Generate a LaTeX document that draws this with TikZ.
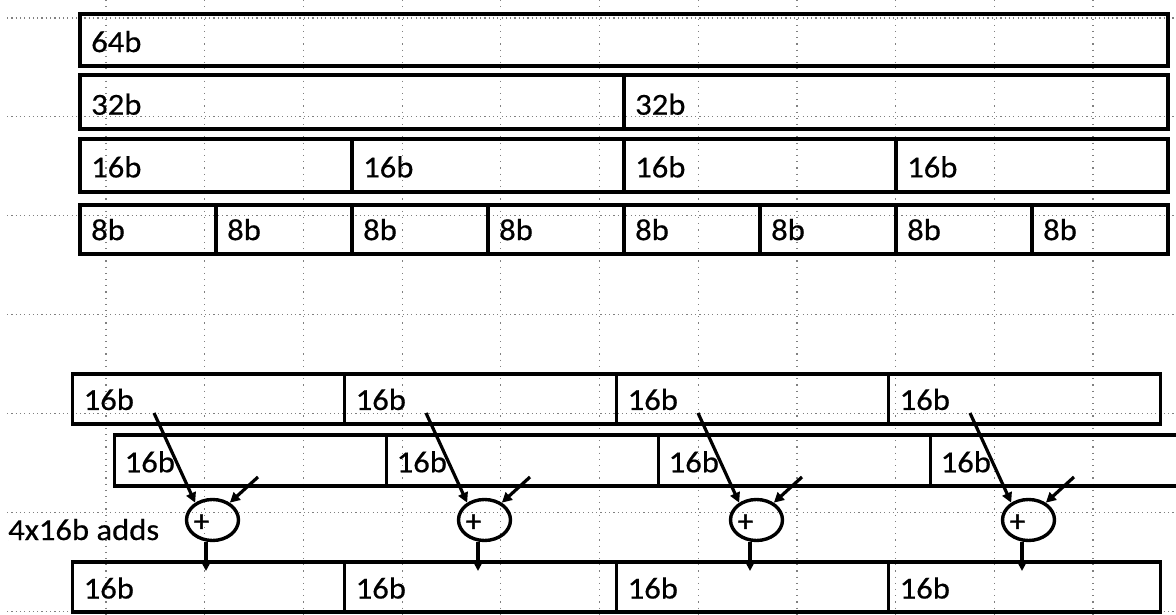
\documentclass[tikz,border=0pt]{standalone}
\usepackage{fontspec}
\newfontfamily\cellfont[FakeStretch=1.07,FakeBold=0.5]{Carlito}
\newfontfamily\plusfont[FakeBold=1.2]{Carlito}
\usetikzlibrary{arrows.meta,shapes.geometric}
\begin{document}
\begin{tikzpicture}[x=1pt,y=-1pt,
  cell/.style={draw, line width=3.8pt, rectangle, inner sep=0pt, anchor=north west},
  lbl/.style={anchor=base west, inner sep=0pt, font=\cellfont\fontsize{30.5}{33}\selectfont},
  adder/.style={draw, line width=3.4pt, ellipse, inner sep=0pt,
                minimum width=52pt, minimum height=41pt},
  plussign/.style={inner sep=0pt, font=\plusfont\fontsize{31}{33}\selectfont},
  feed/.style={line width=3.2pt, -{Triangle[width=10pt,length=10pt]}},
  result/.style={line width=3.2pt, -{Triangle[width=11pt,length=11pt]}},
  hgrid/.style={black!50, line width=1.2pt, dash pattern=on 1.2pt off 3.1pt},
  vgrid/.style={black!50, line width=1.2pt, dash pattern=on 1.2pt off 5pt}
]
\useasboundingbox (0,0) rectangle (1176,615);
\clip (0,0) rectangle (1176,615);

% dotted background grid
\foreach \k in {0,...,10}
  \draw[vgrid] ({106+98.7*\k},0) -- ({106+98.7*\k},615);
\foreach \k in {0,...,6}
  \draw[hgrid] (7,{18+98.9*\k}) -- (1176,{18+98.9*\k});

% register split into lanes of 64, 32, 16 and 8 bits
\node[cell, minimum width=1088pt, minimum height=51.3pt] (w64) at (78,12.5) {};
\node[lbl, xshift=13pt, yshift=-12pt] at (w64.west) {64b};

\foreach \i in {0,1} {
  \node[cell, minimum width=544pt, minimum height=54pt] (w32-\i) at ({78+544*\i},73.3) {};
  \node[lbl, xshift=13pt, yshift=-12.5pt] at (w32-\i.west) {32b};
}
\foreach \i in {0,...,3} {
  \node[cell, minimum width=272pt, minimum height=53pt] (w16-\i) at ({78+272*\i},137) {};
  \node[lbl, xshift=13pt, yshift=-12pt] at (w16-\i.west) {16b};
}
\foreach \i in {0,...,7} {
  \node[cell, minimum width=136pt, minimum height=49pt] (w8-\i) at ({78+136*\i},202.7) {};
  \node[lbl, xshift=13pt, yshift=-11pt] at (w8-\i.west) {8b};
}

% two source operands, one result, four 16-bit adders
\foreach \i in {0,...,3} {
  \node[cell, minimum width=272pt, minimum height=49.5pt] (srcA-\i) at ({70.5+272*\i},372.3) {};
  \node[lbl, xshift=13pt, yshift=-11pt] at (srcA-\i.west) {16b};
  \node[cell, minimum width=272pt, minimum height=50.7pt] (srcB-\i) at ({112.5+272*\i},433) {};
  \node[lbl, xshift=12pt, yshift=-12pt] at (srcB-\i.west) {16b};
  \node[cell, minimum width=272pt, minimum height=50.2pt] (dst-\i) at ({70.5+272*\i},559.8) {};
  \node[lbl, xshift=13pt, yshift=-11.7pt] at (dst-\i.west) {16b};

  \node[adder] (add-\i) at ({212.5+272*\i},520) {};
  \node[plussign] (plus-\i) at ([xshift=-11pt,yshift=-3pt]add-\i.center) {+};

  \coordinate (inA-\i) at ({154+272*\i},413);
  \coordinate (inB-\i) at ({258+272*\i},477);
  \coordinate (out-\i) at ({206+272*\i},571);
  \draw[feed] (inA-\i) -- (add-\i.135);
  \draw[feed] (inB-\i) -- (add-\i.45);
  \draw[result] (out-\i |- add-\i.south) -- (out-\i);
}

\node[lbl] (note) at (8,540) {4x16b adds};
\end{tikzpicture}
\end{document}
